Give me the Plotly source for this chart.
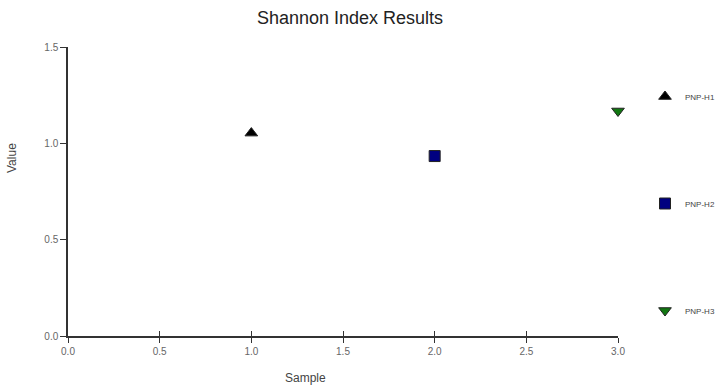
import plotly.graph_objects as go

samples = ["PNP-H1", "PNP-H2", "PNP-H3"]
x_vals = [1.0, 2.0, 3.0]
y_vals = [1.053, 0.934, 1.168]
symbols = ["triangle-up", "square", "triangle-down"]
colors = ["#000000", "#000080", "#117711"]
x_ticks = [0.0, 0.5, 1.0, 1.5, 2.0, 2.5, 3.0]
y_ticks = [0.0, 0.5, 1.0, 1.5]

W, H = 720, 385
PL, PR, PT, PB = 68, 618, 47, 336  # plot area in page pixels
L, T = PL, PT
R, B = W - PR, H - PB
pw, ph = W - L - R, H - T - B

def px_x(px):
    return (px - PL) / pw

def px_y(py):
    return (PB - py) / ph

fig = go.Figure()
for i, name in enumerate(samples):
    fig.add_trace(go.Scatter(
        x=[x_vals[i]], y=[y_vals[i]], mode="markers", name=name,
        legendgroup=name,
        marker=dict(symbol=symbols[i], size=11, color=colors[i],
                    line=dict(width=1, color="#222222")),
        cliponaxis=False,
    ))
fig.add_trace(go.Scatter(x=x_ticks, y=[0.5] * len(x_ticks), xaxis="x2", yaxis="y",
                         mode="markers", marker=dict(size=1, opacity=0),
                         showlegend=False, hoverinfo="skip"))

font_fam = "Liberation Sans, Arial, sans-serif"
fig.update_layout(
    width=W, height=H,
    margin=dict(l=L, r=R, t=T, b=B, autoexpand=False),
    paper_bgcolor="white", plot_bgcolor="white",
    title=dict(text="Shannon Index Results", x=px_x(350), xref="paper",
               y=1 - 18 / H, yref="container", xanchor="center", yanchor="middle",
               font=dict(family=font_fam, size=18, color="#222222")),
    font=dict(family=font_fam, color="#555555"),
    showlegend=True,
    legend=dict(x=px_x(645), y=px_y(82), xanchor="left", yanchor="top",
                font=dict(family=font_fam, size=8, color="#444444"), tracegroupgap=88,
                itemwidth=30, bgcolor="rgba(0,0,0,0)", maxheight=1.0),
    xaxis=dict(range=[0, 3.0], tickvals=x_ticks, ticktext=[f"{v:.1f}" for v in x_ticks],
               showgrid=False, zeroline=False, showline=True, linecolor="#333333",
               linewidth=1.5, ticks="outside", ticklen=5, tickcolor="#333333",
               tickfont=dict(size=10, color="#666666")),
    xaxis2=dict(range=[0, 3.0], overlaying="x", anchor="y", side="bottom",
                tickmode="array", tickvals=x_ticks, showticklabels=False,
                showgrid=False, zeroline=False, showline=True, linecolor="#333333",
                linewidth=1.5, ticks="inside", ticklen=5, tickwidth=1,
                tickcolor="#333333", layer="above traces", visible=True),
    yaxis=dict(range=[0, 1.5], tickvals=y_ticks, ticktext=[f"{v:.1f}" for v in y_ticks],
               showgrid=False, zeroline=False, showline=True, linecolor="#333333",
               linewidth=1.5, ticks="outside", ticklen=6, tickcolor="#333333",
               tickfont=dict(size=10, color="#666666")),
    annotations=[
        dict(text="Sample", x=px_x(305), y=px_y(378), xref="paper", yref="paper",
             xanchor="center", yanchor="middle",
             showarrow=False, font=dict(size=12, color="#444444")),
        dict(text="Value", x=px_x(12), y=px_y(158), xref="paper", yref="paper",
             xanchor="center", yanchor="middle",
             textangle=-90, showarrow=False, font=dict(size=12, color="#444444")),
    ],
)

fig.write_html(
    "out.html",
    config={"displayModeBar": False},
    post_script="document.body.style.margin='0';document.body.style.overflow='hidden';",
)
